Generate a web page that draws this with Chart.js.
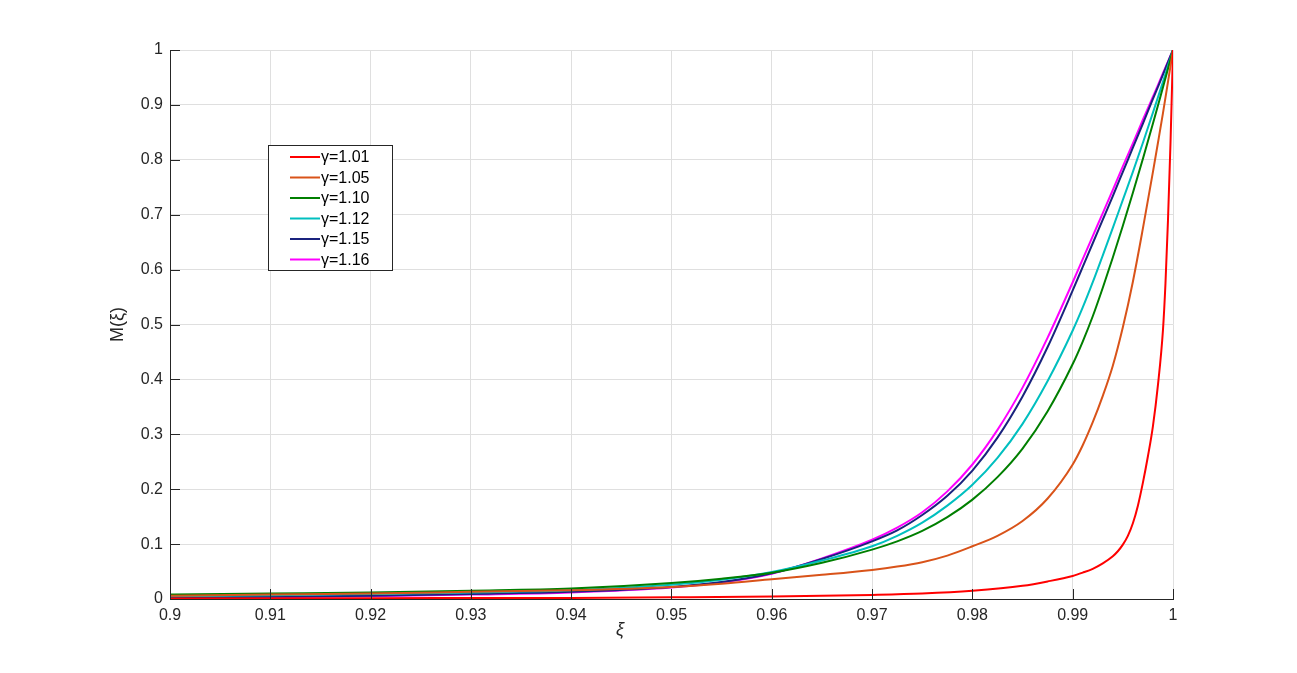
<!DOCTYPE html>
<html>
<head>
<meta charset="utf-8">
<script src="https://cdn.jsdelivr.net/npm/chart.js@4.4.1/dist/chart.umd.min.js"></script>
<style>
  html, body { margin: 0; padding: 0; background: #fff; }
  #wrap { width: 1297px; height: 673px; }
</style>
</head>
<body>
<div id="wrap"><canvas id="c" width="1297" height="673"></canvas></div>
<script>
// xi sample points (denser close to 1 where the curves rise)
const xi = [0.90, 0.91, 0.92, 0.93, 0.94, 0.95, 0.955, 0.96, 0.965, 0.97, 0.9725, 0.975, 0.9775, 0.98,
    0.9825, 0.985, 0.9875, 0.99, 0.991, 0.992, 0.993, 0.994, 0.995, 0.996, 0.997, 0.998, 0.9985,
    0.999, 0.9995, 1.0]
// the gamma = 1.01 curve turns up very late, so it has its own sample points
const xiRed = [0.90, 0.92, 0.94, 0.95, 0.96, 0.97, 0.975, 0.98, 0.985, 0.9875, 0.99, 0.991, 0.992,
    0.993, 0.994, 0.9945, 0.995, 0.9955, 0.996, 0.9965, 0.997, 0.9975, 0.998, 0.9985, 0.999,
    0.99925, 0.9995, 0.99975, 1.0]

const m101 = [0.001, 0.0015, 0.002, 0.003, 0.0045, 0.0075, 0.010, 0.015, 0.024, 0.032, 0.042, 0.048,
    0.055, 0.065, 0.078, 0.087, 0.099, 0.115, 0.138, 0.170, 0.212, 0.26, 0.315, 0.39, 0.49,
    0.575, 0.69, 0.83, 1.0]
const m105 = [0.006, 0.008, 0.010, 0.013, 0.016, 0.022, 0.028, 0.036, 0.044, 0.053, 0.059, 0.067,
    0.079, 0.096, 0.115, 0.142, 0.183, 0.245, 0.28, 0.322, 0.370, 0.425, 0.495, 0.578, 0.675,
    0.778, 0.831, 0.885, 0.942, 1.0]
const m110 = [0.008, 0.010, 0.012, 0.015, 0.019, 0.029, 0.037, 0.048, 0.066, 0.090, 0.105, 0.124,
    0.149, 0.181, 0.222, 0.274, 0.342, 0.428, 0.469, 0.515, 0.567, 0.622, 0.680, 0.740, 0.802,
    0.866, 0.899, 0.932, 0.966, 1.0]
const m112 = [0.005, 0.007, 0.009, 0.012, 0.016, 0.026, 0.035, 0.049, 0.070, 0.096, 0.115, 0.139,
    0.170, 0.208, 0.257, 0.319, 0.397, 0.489, 0.531, 0.577, 0.626, 0.676, 0.727, 0.778, 0.831,
    0.886, 0.914, 0.942, 0.971, 1.0]
const m115 = [0.003, 0.004, 0.006, 0.009, 0.013, 0.022, 0.031, 0.047, 0.073, 0.105, 0.125, 0.153,
    0.188, 0.234, 0.294, 0.369, 0.459, 0.562, 0.605, 0.648, 0.691, 0.734, 0.778, 0.822, 0.866,
    0.911, 0.933, 0.955, 0.978, 1.0]
const m116 = [0.002, 0.003, 0.005, 0.008, 0.012, 0.021, 0.030, 0.046, 0.074, 0.108, 0.130, 0.158,
    0.196, 0.245, 0.308, 0.385, 0.476, 0.577, 0.619, 0.661, 0.703, 0.745, 0.788, 0.830, 0.873,
    0.915, 0.936, 0.958, 0.979, 1.0]

const seriesLabels = ['γ=1.01', 'γ=1.05', 'γ=1.10', 'γ=1.12', 'γ=1.15', 'γ=1.16']
const seriesX = [xiRed, xi, xi, xi, xi, xi]
const seriesValues = [m101, m105, m110, m112, m115, m116]
const seriesColors = ['#ff0000', '#d95319', '#007f00', '#00bfbf', '#1a237e', '#ff00ff']

const FONT = '"Liberation Sans", Arial, Helvetica, sans-serif'
const AXIS_COLOR = '#262626'
const GRID_COLOR = '#dfdfdf'

function fmt(v) {
    return String(Number(v.toFixed(2)))
}

// MATLAB style ticks pointing into the plot, plus the xi label under the axis
const innerTicks = {
    id: 'innerTicks',
    afterDatasetsDraw(chart) {
        const ctx = chart.ctx
        const a = chart.chartArea
        const xs = chart.scales.x
        const ys = chart.scales.y
        ctx.save()
        ctx.strokeStyle = AXIS_COLOR
        ctx.lineWidth = 1
        ctx.beginPath()
        xs.ticks.forEach(t => {
            const px = Math.round(xs.getPixelForValue(t.value)) + 0.5
            ctx.moveTo(px, a.bottom)
            ctx.lineTo(px, a.bottom - 10)
        })
        ys.ticks.forEach(t => {
            const py = Math.round(ys.getPixelForValue(t.value)) + 0.5
            ctx.moveTo(a.left, py)
            ctx.lineTo(a.left + 10, py)
        })
        ctx.stroke()

        ctx.fillStyle = AXIS_COLOR
        ctx.font = 'italic 18px ' + FONT
        ctx.textAlign = 'center'
        ctx.textBaseline = 'middle'
        ctx.fillText('ξ', 620, 630)
        ctx.restore()
    }
}

// boxed legend in the upper left, like the original figure
const boxLegend = {
    id: 'boxLegend',
    afterDraw(chart) {
        const ctx = chart.ctx
        const left = 268, top = 145, w = 124, h = 125
        ctx.save()
        ctx.fillStyle = '#ffffff'
        ctx.fillRect(left, top, w, h)
        ctx.strokeStyle = '#262626'
        ctx.lineWidth = 1
        ctx.strokeRect(left + 0.5, top + 0.5, w, h)
        ctx.font = '16px ' + FONT
        ctx.textBaseline = 'middle'
        chart.data.datasets.forEach((ds, i) => {
            const y = top + 12 + i * 20.5
            ctx.strokeStyle = ds.borderColor
            ctx.lineWidth = 2
            ctx.beginPath()
            ctx.moveTo(290, y)
            ctx.lineTo(320, y)
            ctx.stroke()
            ctx.fillStyle = '#000'
            ctx.fillText(ds.label, 321, y + 1)
        })
        ctx.restore()
    }
}

const data = {
    datasets: seriesValues.map((vals, i) => ({
        label: seriesLabels[i],
        data: vals.map((v, j) => ({ x: seriesX[i][j], y: v })),
        borderColor: seriesColors[i],
        backgroundColor: seriesColors[i],
        borderWidth: 2,
        pointRadius: 0,
        fill: false,
        cubicInterpolationMode: 'monotone'
    }))
}

const config = {
    type: 'line',
    data: data,
    options: {
        responsive: false,
        animation: false,
        layout: {
            padding: { left: 103, top: 50, right: 124, bottom: 29 }
        },
        plugins: {
            legend: { display: false },
            tooltip: { enabled: false }
        },
        scales: {
            x: {
                type: 'linear',
                min: 0.9,
                max: 1.0,
                afterFit: s => { s.height = 45 },
                ticks: {
                    stepSize: 0.01,
                    callback: fmt,
                    color: AXIS_COLOR,
                    padding: 7,
                    maxRotation: 0,
                    font: { family: FONT, size: 16 }
                },
                grid: { color: GRID_COLOR, drawTicks: false },
                border: { display: true, color: AXIS_COLOR, width: 1 }
            },
            y: {
                type: 'linear',
                min: 0,
                max: 1,
                afterFit: s => { s.width = 67 },
                ticks: {
                    stepSize: 0.1,
                    callback: fmt,
                    color: AXIS_COLOR,
                    padding: 7,
                    font: { family: FONT, size: 16 }
                },
                grid: { color: GRID_COLOR, drawTicks: false },
                border: { display: true, color: AXIS_COLOR, width: 1 },
                title: {
                    display: true,
                    text: 'M(ξ)',
                    color: AXIS_COLOR,
                    font: { family: FONT, size: 18 }
                }
            }
        }
    },
    plugins: [innerTicks, boxLegend]
}

new Chart(document.getElementById('c'), config)
</script>
</body>
</html>
